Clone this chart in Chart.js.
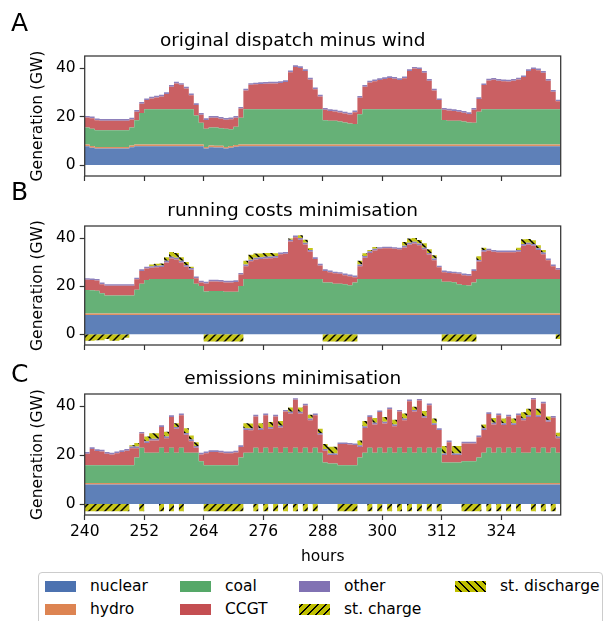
<!DOCTYPE html>
<html>
<head>
<meta charset="utf-8">
<script src="https://cdn.jsdelivr.net/npm/chart.js@4.4.0/dist/chart.umd.min.js"></script>
<style>
  body { margin: 0; background: #fff; font-family: "DejaVu Sans", sans-serif; }
  #wrap { position: relative; width: 606px; height: 621px; overflow: hidden; }
  #wrap canvas { position: absolute; left: 0; }
  .letter { position: absolute; left: 11px; font-size: 25px; line-height: 25px; color: #000; }
  #legend { position: absolute; left: 38px; top: 572px; width: 565px; height: 70px;
            border: 1px solid #cccccc; border-radius: 4px; box-sizing: border-box; }
  .sw { position: absolute; width: 31px; height: 11px; }
  .lt { position: absolute; font-size: 15.5px; line-height: 18px; color: #000; white-space: nowrap; }
</style>
</head>
<body>
<div id="wrap">
  <canvas id="chartA" width="606" height="190" style="top:0px"></canvas>
  <canvas id="chartB" width="606" height="170" style="top:190px"></canvas>
  <canvas id="chartC" width="606" height="210" style="top:360px"></canvas>
  <div class="letter" style="top:10px">A</div>
  <div class="letter" style="top:179px">B</div>
  <div class="letter" style="top:361px">C</div>
  <div id="legend"></div>
</div>
<script>
// hours 240 .. 336
const hours = Array.from({ length: 97 }, (_, i) => 240 + i);
const xTicks = [240, 252, 264, 276, 288, 300, 312, 324];
const yTicks = [0, 20, 40];

// constant levels (GW)
const hydroA = 0.7;
const hydroBC = 0.6;
const nuclearBC = 8.0;
const otherLevel = 0.7;

// ---- A: original dispatch minus wind (GW) ----
const nuclearA = [
  7.8, 7.2, 6.8, 6.8, 6.8, 6.8, 6.8, 6.8, 6.8, 7.4, 7.8, 7.8,
  7.8, 7.8, 7.8, 7.8, 7.8, 7.8, 7.8, 7.8, 7.8, 7.8, 7.8, 7.8,
  6.8, 7.4, 7.3, 7.3, 6.8, 7.2, 7.6, 7.8, 7.8, 7.8, 7.8, 7.8,
  7.8, 7.8, 7.8, 7.8, 7.8, 7.8, 7.8, 7.8, 7.8, 7.8, 7.8, 7.8,
  7.8, 7.8, 7.8, 7.8, 7.8, 7.8, 7.8, 7.8, 7.8, 7.8, 7.8, 7.8,
  7.8, 7.8, 7.8, 7.8, 7.8, 7.8, 7.8, 7.8, 7.8, 7.8, 7.8, 7.8,
  7.8, 7.8, 7.8, 7.8, 7.8, 7.8, 7.8, 7.8, 7.8, 7.8, 7.8, 7.8,
  7.8, 7.8, 7.8, 7.8, 7.8, 7.8, 7.8, 7.8, 7.8, 7.8, 7.8, 7.8,
  7.8
];
const coalA = [
  7.0, 7.1, 6.9, 6.9, 6.9, 6.9, 6.9, 6.9, 6.9, 7.4, 10.0, 13.0,
  14.5, 14.5, 14.5, 14.5, 14.5, 14.5, 14.5, 14.5, 14.5, 14.5, 12.0, 9.0,
  7.5, 7.4, 7.5, 7.2, 7.5, 6.9, 7.5, 11.0, 14.5, 14.5, 14.5, 14.5,
  14.5, 14.5, 14.5, 14.5, 14.5, 14.5, 14.5, 14.5, 14.5, 14.5, 14.5, 14.5,
  10.0, 9.8, 9.8, 9.5, 9.1, 8.7, 8.5, 12.5, 14.5, 14.5, 14.5, 14.5,
  14.5, 14.5, 14.5, 14.5, 14.5, 14.5, 14.5, 14.5, 14.5, 14.5, 14.5, 14.5,
  10.1, 9.8, 9.8, 9.8, 9.5, 9.1, 9.0, 13.5, 14.5, 14.5, 14.5, 14.5,
  14.5, 14.5, 14.5, 14.5, 14.5, 14.5, 14.5, 14.5, 14.5, 14.5, 14.5, 14.5,
  11.5
];
const ccgtA = [
  4.1, 4.3, 4.1, 3.9, 3.9, 3.9, 3.9, 3.9, 3.9, 3.3, 3.5, 3.8,
  3.8, 4.5, 4.9, 5.3, 6.3, 9.3, 10.7, 10.1, 8.6, 5.8, 4.3, 3.3,
  3.6, 4.0, 4.0, 3.9, 3.7, 4.1, 3.7, 3.8, 7.8, 10.1, 10.3, 10.5,
  10.6, 10.7, 10.7, 10.9, 11.3, 15.3, 17.5, 17.1, 15.8, 12.3, 8.3, 5.3,
  4.3, 4.0, 3.8, 3.7, 3.7, 3.7, 4.8, 6.8, 9.3, 11.1, 11.6, 12.1,
  12.5, 12.9, 12.6, 12.1, 12.8, 15.8, 16.8, 16.6, 15.1, 11.8, 7.8, 3.8,
  4.2, 4.2, 4.0, 3.7, 3.6, 3.5, 5.3, 5.3, 10.0, 11.9, 12.2, 11.8,
  11.6, 11.5, 11.8, 12.3, 13.3, 15.8, 16.6, 16.1, 15.1, 11.8, 7.3, 3.3,
  3.8
];

// ---- B: running costs minimisation (GW) ----
const coalB = [
  9.8, 9.7, 9.5, 8.4, 7.5, 7.5, 7.5, 7.5, 7.5, 7.5, 9.9, 12.4,
  13.9, 14.4, 14.4, 14.4, 14.4, 14.4, 14.4, 14.4, 14.4, 14.4, 12.4, 11.4,
  9.2, 9.4, 9.4, 9.4, 9.0, 9.0, 9.0, 11.4, 14.4, 14.4, 14.4, 14.4,
  14.4, 14.4, 14.4, 14.4, 14.4, 14.4, 14.4, 14.4, 14.4, 14.4, 14.4, 14.4,
  12.9, 12.9, 12.4, 12.4, 12.2, 11.8, 12.9, 14.4, 14.4, 14.4, 14.4, 14.4,
  14.4, 14.4, 14.4, 14.4, 14.4, 14.4, 14.4, 14.4, 14.4, 14.4, 14.4, 14.4,
  13.2, 13.2, 13.0, 12.2, 11.9, 11.7, 12.9, 14.4, 14.4, 14.4, 14.4, 14.4,
  14.4, 14.4, 14.4, 14.4, 14.4, 14.4, 14.4, 14.4, 14.4, 14.4, 14.4, 14.4,
  14.4
];
const ccgtB = [
  4.2, 4.2, 4.2, 3.8, 4.0, 4.0, 4.0, 4.0, 4.0, 4.0, 4.3, 5.3,
  4.8, 4.6, 4.8, 4.9, 6.8, 8.5, 8.1, 6.8, 5.1, 3.8, 2.3, 1.5,
  3.3, 3.9, 3.9, 3.8, 3.9, 3.9, 4.1, 4.8, 5.3, 7.3, 8.1, 8.3,
  8.5, 8.6, 8.8, 10.3, 10.5, 15.6, 17.3, 16.3, 14.3, 11.3, 8.3, 5.6,
  4.8, 4.3, 4.3, 4.1, 3.7, 3.7, 2.2, 5.3, 8.8, 10.8, 11.8, 12.5,
  12.7, 12.7, 12.5, 12.3, 13.1, 14.3, 14.7, 14.0, 12.3, 10.1, 7.8, 4.8,
  4.0, 3.7, 3.7, 4.3, 4.0, 4.0, 4.8, 7.2, 11.3, 11.8, 11.3, 11.1,
  11.1, 11.1, 11.1, 11.3, 13.8, 14.3, 13.8, 12.0, 10.3, 7.8, 5.3, 3.8,
  3.3
];
const dischargeB = [
  0, 0, 0, 0, 0, 0, 0, 0, 0, 0, 0, 0,
  0, 0.7, 0.8, 0.8, 1.5, 2.0, 2.0, 1.5, 1.2, 0.5, 0, 0,
  0, 0, 0, 0, 0, 0, 0, 0, 1.5, 2.0, 1.8, 1.6,
  1.6, 1.5, 1.2, 0, 0, 0.5, 0, 1.2, 1.3, 0.8, 0, 0,
  0, 0, 0, 0, 0, 0, 0, 1.5, 1.2, 0.5, 0.8, 0,
  0, 0, 0, 0, 1.5, 1.8, 1.6, 1.5, 1.8, 1.5, 1.3, 0,
  0, 0, 0, 0, 0, 0, 0, 1.5, 1.0, 0, 0, 0,
  0, 0, 0, 1.0, 2.0, 1.6, 1.6, 1.3, 1.0, 0, 0, 0,
  0
];
const chargeB = [
  -2.7, -2.7, -2.5, -2.5, -2.0, -2.7, -2.7, -2.3, -1.5, 0, 0, 0,
  0, 0, 0, 0, 0, 0, 0, 0, 0, 0, 0, 0,
  -3, -3, -3, -3, -3, -3, -3, -3, 0, 0, 0, 0,
  0, 0, 0, 0, 0, 0, 0, 0, 0, 0, 0, 0,
  -3, -3, -3, -3, -3, -3, -3, 0, 0, 0, 0, 0,
  0, 0, 0, 0, 0, 0, 0, 0, 0, 0, 0, 0,
  -3, -3, -3, -3, -3, -3, -3, 0, 0, 0, 0, 0,
  0, 0, 0, 0, 0, 0, 0, 0, 0, 0, 0, -2,
  -2
];

// ---- C: emissions minimisation (GW) ----
const coalC = [
  7.3, 7.3, 7.3, 7.3, 7.3, 7.3, 7.3, 7.3, 7.3, 7.3, 10.4, 14.4,
  12.4, 12.4, 12.4, 14.4, 12.4, 14.4, 12.4, 14.4, 12.4, 12.4, 12.4, 8.9,
  7.3, 7.3, 7.3, 7.3, 7.3, 7.3, 7.3, 10.4, 12.4, 12.4, 14.4, 12.4,
  14.4, 12.4, 14.4, 12.4, 14.4, 12.4, 14.4, 12.4, 14.4, 12.4, 14.4, 12.4,
  8.4, 8.0, 8.0, 7.3, 7.3, 7.3, 7.3, 10.4, 12.4, 14.4, 12.4, 14.4,
  12.4, 14.4, 12.4, 14.4, 12.4, 14.4, 12.4, 14.4, 12.4, 14.4, 12.4, 14.4,
  8.4, 8.4, 8.4, 8.4, 8.9, 8.9, 8.9, 10.4, 12.4, 14.4, 12.4, 14.4,
  12.4, 14.4, 12.4, 14.4, 12.4, 12.4, 14.4, 12.4, 14.4, 12.4, 14.4, 12.4,
  10.4
];
const ccgtC = [
  4.7, 6.6, 5.8, 5.6, 4.7, 4.4, 4.9, 5.4, 5.9, 6.9, 3.8, 5.8,
  4.0, 5.0, 5.0, 8.5, 5.9, 12.6, 9.8, 13.3, 7.3, 4.7, 2.0, 2.8,
  4.9, 5.4, 5.4, 5.2, 4.9, 4.9, 5.2, 4.3, 9.3, 9.2, 12.8, 9.3,
  13.3, 9.8, 12.8, 10.3, 14.8, 16.0, 19.6, 16.0, 17.3, 13.3, 13.3, 7.3,
  4.8, 3.4, 3.4, 8.6, 8.6, 8.4, 8.2, 4.3, 10.1, 12.6, 11.5, 14.6,
  11.9, 15.8, 10.8, 14.8, 13.3, 19.0, 16.8, 19.3, 14.3, 17.4, 11.3, 7.3,
  3.0, 8.3, 3.0, 3.0, 7.3, 7.3, 7.3, 8.3, 9.3, 13.8, 11.5, 13.3,
  11.3, 12.8, 11.3, 13.3, 13.3, 14.6, 19.7, 14.6, 18.1, 12.6, 12.3, 5.9,
  3.3
];
const dischargeC = [
  0, 0, 0, 0, 0, 0, 0, 0, 0, 0.5, 1.5, 0,
  1.9, 2.2, 2.2, 0, 2.0, 0, 1.5, 0, 2.0, 1.6, 1.6, 0,
  0, 0, 0, 0, 0, 0, 0, 0, 2.0, 2.0, 0, 2.0,
  0, 2.0, 0, 2.0, 0, 1.8, 0, 1.8, 0, 1.5, 0, 1.8,
  2.0, 2.7, 2.7, 0, 0, 0, 0, 2.0, 2.2, 0, 2.0, 0,
  2.0, 0, 2.0, 0, 2.0, 0, 1.3, 0, 2.0, 0, 2.0, 0,
  3.0, 0, 3.0, 3.0, 0, 0, 0, 0, 1.5, 0, 2.0, 0,
  2.0, 0, 2.0, 0, 2.5, 2.7, 0, 2.7, 0, 1.5, 0, 1.5,
  1.2
];
const chargeC = [
  -3, -3, -3, -3, -3, -3, -3, -3, -3, 0, 0, -3,
  0, 0, 0, -3, 0, -3, 0, -3, 0, 0, 0, 0,
  -3, -3, -3, -3, -3, -3, -3, -3, 0, 0, -3, 0,
  -3, 0, -3, 0, -3, 0, -3, 0, -3, 0, -3, 0,
  0, 0, 0, -3, -3, -3, -3, 0, 0, -3, 0, -3,
  0, -3, 0, -3, 0, -3, 0, -3, 0, -3, 0, -3,
  0, 0, 0, 0, -3, -3, -3, -3, 0, -3, 0, -3,
  0, -3, 0, -3, 0, 0, -3, 0, -3, 0, -3, 0,
  0
];

const FONT = "DejaVu Sans";
const colors = {
  nuclear: "#4c72b0", hydro: "#dd8452", coal: "#55a868",
  ccgt: "#c44e52", other: "#8172b3", storage: "#bfbf00"
};
// plot fills are drawn at alpha 0.9 over white
function soft(hex) {
  const n = parseInt(hex.slice(1), 16);
  const c = [n >> 16, (n >> 8) & 255, n & 255].map(v => Math.round(v * 0.9 + 25.5));
  return `rgb(${c[0]},${c[1]},${c[2]})`;
}

function hatch(dir) {
  const c = document.createElement("canvas");
  c.width = 8; c.height = 8;
  const g = c.getContext("2d");
  g.fillStyle = soft(colors.storage);
  g.fillRect(0, 0, 8, 8);
  g.strokeStyle = "#000";
  g.lineWidth = 1.5;
  g.beginPath();
  if (dir === "/") {
    g.moveTo(-2, 10); g.lineTo(10, -2);
    g.moveTo(-2, 2); g.lineTo(2, -2);
    g.moveTo(6, 10); g.lineTo(10, 6);
  } else {
    g.moveTo(-2, -2); g.lineTo(10, 10);
    g.moveTo(6, -2); g.lineTo(10, 2);
    g.moveTo(-2, 6); g.lineTo(2, 10);
  }
  g.stroke();
  return g.createPattern(c, "repeat");
}
const chargeFill = hatch("/");
const dischargeFill = hatch("\\");

const frame = {
  id: "frame",
  afterDraw(chart) {
    const { ctx, chartArea: a } = chart;
    ctx.save();
    ctx.strokeStyle = "#333";
    ctx.lineWidth = 1.25;
    ctx.strokeRect(a.left, a.top, a.right - a.left, a.bottom - a.top);
    ctx.restore();
  }
};

function layer(label, values, color, fill, stack) {
  return {
    label: label,
    data: hours.map((h, i) => ({ x: h, y: Array.isArray(values) ? values[i] : values })),
    backgroundColor: color,
    borderWidth: 0,
    pointRadius: 0,
    stepped: true,
    fill: fill,
    stack: stack || "gen"
  };
}

function makeChart(id, title, series, padTop, xHeight, showX) {
  const font = { family: FONT, size: 15.5 };
  return new Chart(document.getElementById(id), {
    type: "line",
    data: {
      datasets: [
        layer("nuclear", series.nuclear, soft(colors.nuclear), "origin"),
        layer("hydro", series.hydro, soft(colors.hydro), "-1"),
        layer("coal", series.coal, soft(colors.coal), "-1"),
        layer("CCGT", series.ccgt, soft(colors.ccgt), "-1"),
        layer("other", otherLevel, soft(colors.other), "-1"),
        layer("st. discharge", series.discharge, dischargeFill, "-1"),
        layer("st. charge", series.charge, chargeFill, "origin", "charge")
      ]
    },
    options: {
      responsive: false,
      animation: false,
      events: [],
      layout: { padding: { left: 24.7, right: 45.3, top: padTop, bottom: 0 } },
      plugins: {
        legend: { display: false },
        tooltip: { enabled: false },
        title: {
          display: true, text: title, color: "#000",
          font: { family: FONT, size: 18.5, weight: "normal" },
          padding: { top: 0, bottom: 4 }
        }
      },
      scales: {
        x: {
          type: "linear", min: 240, max: 336,
          afterBuildTicks: s => { s.ticks = xTicks.map(v => ({ value: v })); },
          afterFit: s => { s.height = xHeight; },
          grid: { drawOnChartArea: false, tickLength: 5, color: "#333", tickWidth: 1.2 },
          border: { display: false },
          ticks: { display: showX, color: "#000", font: font, padding: 3, maxRotation: 0 },
          title: { display: showX, text: "hours", color: "#000", font: font, padding: { top: 0, bottom: 4 } }
        },
        y: {
          stacked: true, min: -4.5, max: 45,
          afterBuildTicks: s => { s.ticks = yTicks.map(v => ({ value: v })); },
          afterFit: s => { s.width = 60; },
          grid: { drawOnChartArea: false, tickLength: 5, color: "#333", tickWidth: 1.2 },
          border: { display: false },
          ticks: { color: "#000", font: font, padding: 4 },
          title: { display: true, text: "Generation (GW)", color: "#000", font: font, padding: { top: 4, bottom: 0 } }
        }
      }
    },
    plugins: [frame]
  });
}

const zeros = 0;
makeChart("chartA", "original dispatch minus wind",
  { nuclear: nuclearA, hydro: hydroA, coal: coalA, ccgt: ccgtA, discharge: zeros, charge: zeros },
  29.8, 14, false);
makeChart("chartB", "running costs minimisation",
  { nuclear: nuclearBC, hydro: hydroBC, coal: coalB, ccgt: ccgtB, discharge: dischargeB, charge: chargeB },
  9.8, 15, false);
makeChart("chartC", "emissions minimisation",
  { nuclear: nuclearBC, hydro: hydroBC, coal: coalC, ccgt: ccgtC, discharge: dischargeC, charge: chargeC },
  7.8, 55, true);

// legend, drawn as HTML
const legendItems = [
  { label: "nuclear", fill: colors.nuclear, x: 6, row: 0 },
  { label: "hydro", fill: colors.hydro, x: 6, row: 1 },
  { label: "coal", fill: colors.coal, x: 141, row: 0 },
  { label: "CCGT", fill: colors.ccgt, x: 141, row: 1 },
  { label: "other", fill: colors.other, x: 260, row: 0 },
  { label: "st. charge", fill: "repeating-linear-gradient(-45deg, #bfbf00 0px, #bfbf00 4px, #000 4px, #000 5.6px)", x: 260, row: 1 },
  { label: "st. discharge", fill: "repeating-linear-gradient(45deg, #bfbf00 0px, #bfbf00 4px, #000 4px, #000 5.6px)", x: 416, row: 0 }
];
const legend = document.getElementById("legend");
legendItems.forEach(item => {
  const sw = document.createElement("div");
  sw.className = "sw";
  sw.style.left = item.x + "px";
  sw.style.top = (8 + item.row * 23) + "px";
  sw.style.background = item.fill;
  legend.appendChild(sw);
  const t = document.createElement("div");
  t.className = "lt";
  t.style.left = (item.x + 45) + "px";
  t.style.top = (4 + item.row * 23) + "px";
  t.textContent = item.label;
  legend.appendChild(t);
});
</script>
</body>
</html>
